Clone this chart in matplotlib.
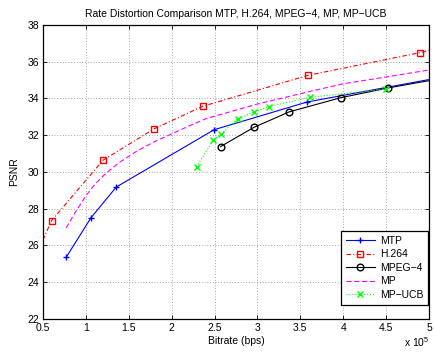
import matplotlib
matplotlib.use("Agg")
import matplotlib.pyplot as plt
from matplotlib.ticker import FuncFormatter, MultipleLocator

plt.rcParams['font.family'] = ['Liberation Sans', 'DejaVu Sans']
plt.rcParams['mathtext.fontset'] = 'custom'
plt.rcParams['mathtext.rm'] = 'Liberation Sans'

# bitrate in units of 1e5 bps, PSNR in dB
mtp_x = [0.77, 1.06, 1.355, 2.495, 3.58, 5.0]
mtp_y = [25.35, 27.51, 29.18, 32.30, 33.81, 35.03]
mtp_marks = [0, 1, 2, 3, 4]

h264_x = [0.5, 0.6, 1.2, 1.8, 2.36, 3.59, 4.89, 5.0]
h264_y = [26.3, 27.35, 30.64, 32.36, 33.57, 35.26, 36.49, 36.62]
h264_marks = [1, 2, 3, 4, 5, 6]

mpeg4_x = [2.57, 2.96, 3.37, 3.97, 4.52, 5.0]
mpeg4_y = [31.38, 32.43, 33.27, 34.04, 34.57, 34.97]
mpeg4_marks = [0, 1, 2, 3, 4]

mp_x = [0.77, 0.87, 1.0, 1.1, 1.2, 1.3, 1.4, 1.6, 1.8, 2.0, 2.2, 2.4, 3.0, 3.6,
        4.0, 4.5, 5.0]
mp_y = [26.95, 27.75, 28.7, 29.3, 29.78, 30.18, 30.55, 31.15, 31.65, 32.07, 32.5,
        32.9, 33.7, 34.37, 34.8, 35.17, 35.55]

ucb_x = [2.29, 2.485, 2.58, 2.77, 2.96, 3.13, 3.61, 4.50]
ucb_y = [30.29, 31.72, 32.08, 32.90, 33.26, 33.56, 34.06, 34.52]

fs = 7.5
fig = plt.figure(figsize=(4.34, 3.52), dpi=100)
ax = fig.add_axes([0.099, 0.094, 0.8895, 0.835])

lw = 0.8
ax.plot(mtp_x, mtp_y, '-', color='#0000ff', lw=lw, marker='+', ms=5,
        markevery=mtp_marks, label='MTP')
ax.plot(h264_x, h264_y, color='#ff0000', lw=lw, ls=(0, (4, 2, 1, 2)),
        marker='s', ms=4.5, mfc='none', markevery=h264_marks, label='H.264')
ax.plot(mpeg4_x, mpeg4_y, '-', color='k', lw=lw, marker='o', ms=4.8,
        mfc='none', markevery=mpeg4_marks, label='MPEG\u22124')
ax.plot(mp_x, mp_y, color='#ff00ff', lw=lw, ls=(0, (4.5, 2.5)), label='MP')
ax.plot(ucb_x, ucb_y, ':', color='#00ff00', lw=lw, marker='x', ms=4,
        label='MP\u2212UCB')

ax.set_xlim(0.5, 5)
ax.set_ylim(22, 38)
ax.xaxis.set_major_locator(MultipleLocator(0.5))
ax.yaxis.set_major_locator(MultipleLocator(2))
ax.xaxis.set_major_formatter(FuncFormatter(lambda v, p: '%g' % v))
ax.tick_params(direction='in', length=3, width=0.6, labelsize=fs,
               top=True, right=True, pad=3)
ax.grid(True, color='#555555', linestyle=(0, (1, 3)), lw=0.5)
for s in ax.spines.values():
    s.set_linewidth(0.9)

ax.set_title('Rate Distortion Comparison MTP, H.264, MPEG\u22124, MP, MP\u2212UCB',
             fontsize=fs, pad=6)
ax.set_xlabel('Bitrate (bps)', fontsize=fs, labelpad=2)
ax.set_ylabel('PSNR', fontsize=fs, labelpad=6)
ax.text(1.0, -0.055, r'x 10$^{5}$', transform=ax.transAxes, ha='right',
        va='top', fontsize=fs)

leg = ax.legend(loc='lower right', bbox_to_anchor=(0.998, 0.048), borderaxespad=0,
                fontsize=fs, fancybox=False, edgecolor='k', framealpha=1,
                handlelength=2.8, handletextpad=0.5, labelspacing=0.35,
                borderpad=0.45, numpoints=1)
leg.get_frame().set_linewidth(0.9)

fig.savefig('out.png', dpi=100)
